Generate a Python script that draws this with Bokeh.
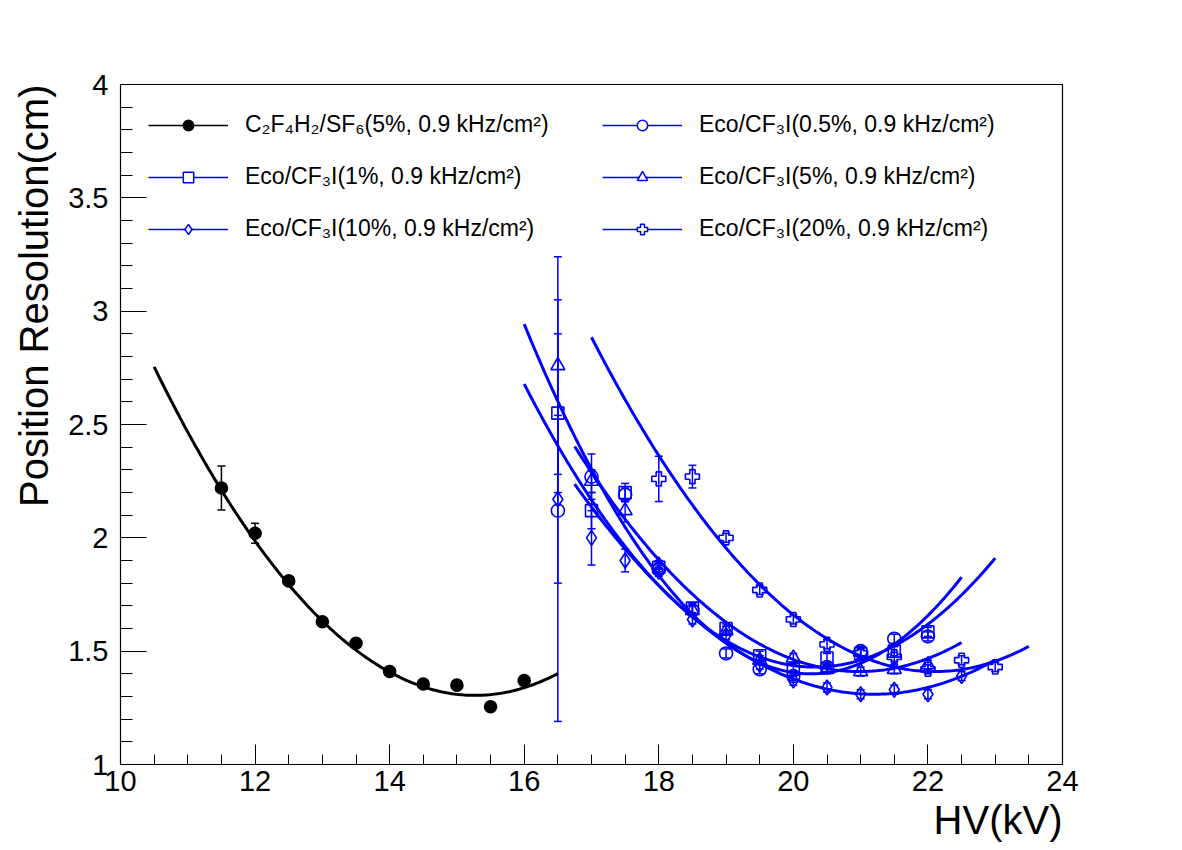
import numpy as np
from bokeh.plotting import figure
from bokeh.models import (Range1d, SingleIntervalTicker, ColumnDataSource, Whisker,
                          TeeHead, Legend, LegendItem, Title)
from bokeh.embed import file_html
from bokeh.resources import INLINE

# ---------------- data ----------------
hv_ref = [11.5, 12, 12.5, 13, 13.5, 14, 14.5, 15, 15.5, 16]
res_ref = [2.22, 2.02, 1.81, 1.63, 1.535, 1.41, 1.355, 1.35, 1.255, 1.37]
err_ref = [0.097, 0.044, 0.015, 0.015, 0.012, 0.012, 0.012, 0.012, 0.012, 0.012]

hv_eco = [16.5, 17, 17.5, 18, 18.5, 19, 19.5, 20, 20.5, 21, 21.5, 22]
res_05 = [2.12, 2.27, 2.19, 1.86, 1.68, 1.49, 1.42, 1.39, 1.43, 1.50, 1.555, 1.565]
err_05 = [0.93, 0.10, 0.03, 0.02, 0.02, 0.02, 0.02, 0.02, 0.02, 0.02, 0.02, 0.02]
res_1 = [2.55, 2.12, 2.20, 1.87, 1.69, 1.60, 1.48, 1.42, 1.47, 1.49, 1.50, 1.585]
err_1 = [0.35, 0.08, 0.04, 0.02, 0.02, 0.02, 0.02, 0.02, 0.02, 0.02, 0.02, 0.02]
res_5 = [2.76, 2.25, 2.12, 1.88, 1.68, 1.59, 1.46, 1.47, 1.42, 1.41, 1.42, 1.44]
err_5 = [0.48, 0.05, 0.05, 0.02, 0.02, 0.02, 0.02, 0.02, 0.02, 0.02, 0.02, 0.02]
hv_10 = [16.5, 17, 17.5, 18, 18.5, 19, 19.5, 20, 20.5, 21, 21.5, 22, 22.5]
res_10 = [2.17, 2.00, 1.90, 1.85, 1.64, 1.57, 1.44, 1.37, 1.34, 1.31, 1.33, 1.31, 1.39]
err_10 = [0.37, 0.12, 0.05, 0.02, 0.02, 0.02, 0.02, 0.02, 0.02, 0.02, 0.02, 0.02, 0.02]
hv_20 = [18, 18.5, 19, 19.5, 20, 20.5, 21, 21.5, 22, 22.5, 23]
res_20 = [2.26, 2.27, 2.00, 1.77, 1.64, 1.53, 1.49, 1.475, 1.42, 1.46, 1.43]
err_20 = [0.10, 0.05, 0.02, 0.02, 0.02, 0.02, 0.02, 0.02, 0.02, 0.02, 0.02]

# pol2 fit parameters (vertex form a*(x-h)^2 + k) and fit ranges
fit_a = [0.0637, 0.085, 0.0669, 0.0555, 0.0468, 0.0567]
fit_h = [15.27, 20.26, 20.32, 20.98, 21.2, 22.1]
fit_k = [1.305, 1.40, 1.43, 1.41, 1.31, 1.41]
fit_lo = [10.5, 16.0, 16.0, 16.75, 16.75, 17.0]
fit_hi = [16.5, 22.5, 23.0, 22.5, 23.0, 23.5]

labels = [
    "C\u2082F\u2084H\u2082/SF\u2086(5%, 0.9 kHz/cm\u00b2)",
    "Eco/CF\u2083I(0.5%, 0.9 kHz/cm\u00b2)",
    "Eco/CF\u2083I(1%, 0.9 kHz/cm\u00b2)",
    "Eco/CF\u2083I(5%, 0.9 kHz/cm\u00b2)",
    "Eco/CF\u2083I(10%, 0.9 kHz/cm\u00b2)",
    "Eco/CF\u2083I(20%, 0.9 kHz/cm\u00b2)",
]

y_ticks = [1, 1.5, 2, 2.5, 3, 3.5, 4]
y_tick_labels = ["1", "1.5", "2", "2.5", "3", "3.5", "4"]

x_title = "HV(kV)"
y_title = "Position Resolution(cm)"

# ---------------- style ----------------
FONT = "Liberation Sans"
BLUE = "#0000ff"
BLACK = "#000000"

series = [
    (hv_ref, res_ref, err_ref, "circle", BLACK, 12, True),
    (hv_eco, res_05, err_05, "circle", BLUE, 13, False),
    (hv_eco, res_1, err_1, "square", BLUE, 12, False),
    (hv_eco, res_5, err_5, "triangle", BLUE, 14, False),
    (hv_10, res_10, err_10, "diamond", BLUE, 15, False),
    (hv_20, res_20, err_20, "plus", BLUE, 14, False),
]

p = figure(width=1182, height=850, output_backend="svg", toolbar_location=None,
           x_range=Range1d(10, 24), y_range=Range1d(1, 4),
           min_border_left=119, min_border_right=120,
           min_border_top=84, min_border_bottom=86)
p.xgrid.visible = False
p.ygrid.visible = False
p.outline_line_color = "black"
p.outline_line_width = 1.2
p.background_fill_color = "white"
p.border_fill_color = "white"

p.xaxis.ticker = SingleIntervalTicker(interval=2, num_minor_ticks=4)
p.yaxis.ticker = SingleIntervalTicker(interval=0.5, num_minor_ticks=5)
p.yaxis.major_label_overrides = {t: s for t, s in zip(y_ticks, y_tick_labels)}

for ax in (p.xaxis[0], p.yaxis[0]):
    ax.major_label_text_font = FONT
    ax.major_label_text_font_size = "29px"
    ax.major_label_text_color = "black"
    ax.axis_line_color = "black"
    ax.major_tick_out = 0
    ax.minor_tick_out = 0
    ax.major_tick_line_color = "black"
    ax.minor_tick_line_color = "black"
p.xaxis.major_tick_in = 20
p.xaxis.minor_tick_in = 10
p.yaxis.major_tick_in = 26
p.yaxis.minor_tick_in = 12
p.xaxis.major_label_standoff = 6
p.yaxis.major_label_standoff = 12

legend_items = []
for i, (xs, ys, es, marker, color, size, filled) in enumerate(series):
    # fit curve
    xf = np.linspace(fit_lo[i], fit_hi[i], 200)
    yf = fit_a[i] * (xf - fit_h[i]) ** 2 + fit_k[i]
    p.line(xf, yf, line_color=color, line_width=3)

    up = [y + e for y, e in zip(ys, es)]
    lo = [y - e for y, e in zip(ys, es)]
    src = ColumnDataSource(dict(x=xs, y=ys, upper=up, lower=lo))
    w = Whisker(source=src, base="x", upper="upper", lower="lower", dimension="height",
                line_color=color, line_width=1.5, level="underlay",
                upper_head=TeeHead(size=8, line_color=color, line_width=1.5),
                lower_head=TeeHead(size=8, line_color=color, line_width=1.5))
    p.add_layout(w)
    p.scatter("x", "y", source=src, marker=marker, size=size, line_color=color,
              line_width=1.6, fill_color=color if filled else None)

    # legend proxies (a single NaN point: nothing drawn in the frame)
    proxy = ColumnDataSource(dict(x=[np.nan], y=[np.nan]))
    rl = p.line("x", "y", source=proxy, line_color=color, line_width=1.5)
    rv = p.scatter("x", "y", source=proxy, marker="dash", angle=np.pi / 2,
                   line_color=color, line_width=1.5)
    rm = p.scatter("x", "y", source=proxy, marker=marker, line_color=color, line_width=1.5,
                   fill_color=color if filled else "white")
    legend_items.append(LegendItem(label=labels[i], renderers=[rl, rv, rm]))

common = dict(orientation="vertical", glyph_width=80, glyph_height=26, label_height=26,
              spacing=25, label_standoff=17, padding=0, margin=0,
              border_line_alpha=0, background_fill_alpha=0,
              label_text_font=FONT, label_text_font_size="23px",
              label_text_color="black", label_text_baseline="middle")
leg_left = Legend(items=[legend_items[0], legend_items[2], legend_items[4]],
                  location=(28, 522), **common)
leg_right = Legend(items=[legend_items[1], legend_items[3], legend_items[5]],
                   location=(482, 522), **common)
p.add_layout(leg_left)
p.add_layout(leg_right)

p.add_layout(Title(text=x_title, align="right", text_font=FONT, text_font_size="40px",
                   text_font_style="normal", text_color="black", standoff=4), "below")
p.add_layout(Title(text=y_title, align="right", text_font=FONT, text_font_size="40px",
                   text_font_style="normal", text_color="black", standoff=19), "left")

open("out.html", "w").write(file_html(p, INLINE))
